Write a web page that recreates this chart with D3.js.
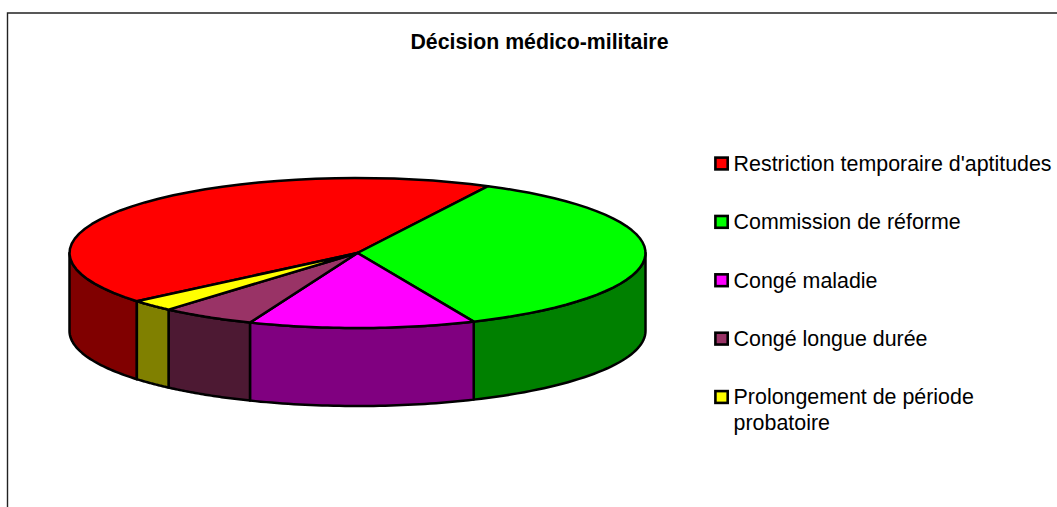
<!DOCTYPE html>
<html><head><meta charset="utf-8">
<style>html,body{margin:0;padding:0;background:#fff;overflow:hidden}svg{display:block}text{font-family:"Liberation Sans",Arial,sans-serif;fill:#000}</style>
<script src="https://cdn.jsdelivr.net/npm/d3@7"></script></head><body>
<script>
const categories = ["Restriction temporaire d'aptitudes","Commission de réforme","Congé maladie","Congé longue durée","Prolongement de période probatoire"];
const values = [43.6,35.9,12.7,5.3,2.5];
const topColors = ["#ff0000","#00ff00","#ff00ff","#993366","#ffff00"];
const sideColors = ["#800000","#008000","#800080","#4d1933","#808000"];
const titleText = "Décision médico-militaire";

const W=1057,H=507,cx=357.5,cy=253,rx=288,ry=75,depth=78;
const svg=d3.select("body").append("svg").attr("width",W).attr("height",H);
svg.append("path").attr("d",`M7.5,${H}V13H${W}`).attr("fill","none").attr("stroke","#222").attr("stroke-width",1.4);
svg.append("text").attr("x",539.5).attr("y",49).attr("text-anchor","middle").attr("font-weight","bold").attr("font-size",21.3).text(titleText);

const start=230*Math.PI/180;
const arcs=d3.pie().sort(null).startAngle(start).endAngle(start+2*Math.PI)(values);
const px=t=>cx+rx*Math.sin(t), py=t=>cy-ry*Math.cos(t);
const line=d3.line();
const sample=(a,b)=>d3.range(0,41).map(i=>a+(b-a)*i/40);
const style=(s,fill)=>s.attr("fill",fill).attr("stroke","#000").attr("stroke-width",2.5).attr("stroke-linejoin","round");

arcs.forEach((d,i)=>{
  [0,2*Math.PI].forEach(off=>{
    const a=Math.max(d.startAngle,Math.PI/2+off), b=Math.min(d.endAngle,1.5*Math.PI+off);
    if(b<=a) return;
    const ts=sample(a,b);
    const pts=ts.map(t=>[px(t),py(t)]).concat(ts.slice().reverse().map(t=>[px(t),py(t)+depth]));
    style(svg.append("path").attr("d",line(pts)+"Z"),sideColors[i]);
  });
});
arcs.forEach((d,i)=>{
  const pts=[[cx,cy]].concat(sample(d.startAngle,d.endAngle).map(t=>[px(t),py(t)]));
  style(svg.append("path").attr("d",line(pts)+"Z"),topColors[i]);
});

const legendY=d3.scalePoint().domain(categories).range([163.5,397]);
const fs=21.4;
categories.forEach((c,i)=>{
  const y=legendY(c);
  svg.append("rect").attr("x",715.4).attr("y",y-5.9).attr("width",12.3).attr("height",11.8)
    .attr("fill",topColors[i]).attr("stroke","#000").attr("stroke-width",2.6);
  const t=svg.append("text").attr("x",733.6).attr("y",y+7.4).attr("font-size",fs);
  if(i===4){
    t.text("Prolongement de période");
    svg.append("text").attr("x",733.6).attr("y",y+33).attr("font-size",fs).text("probatoire");
  } else t.text(c);
});
</script></body></html>
